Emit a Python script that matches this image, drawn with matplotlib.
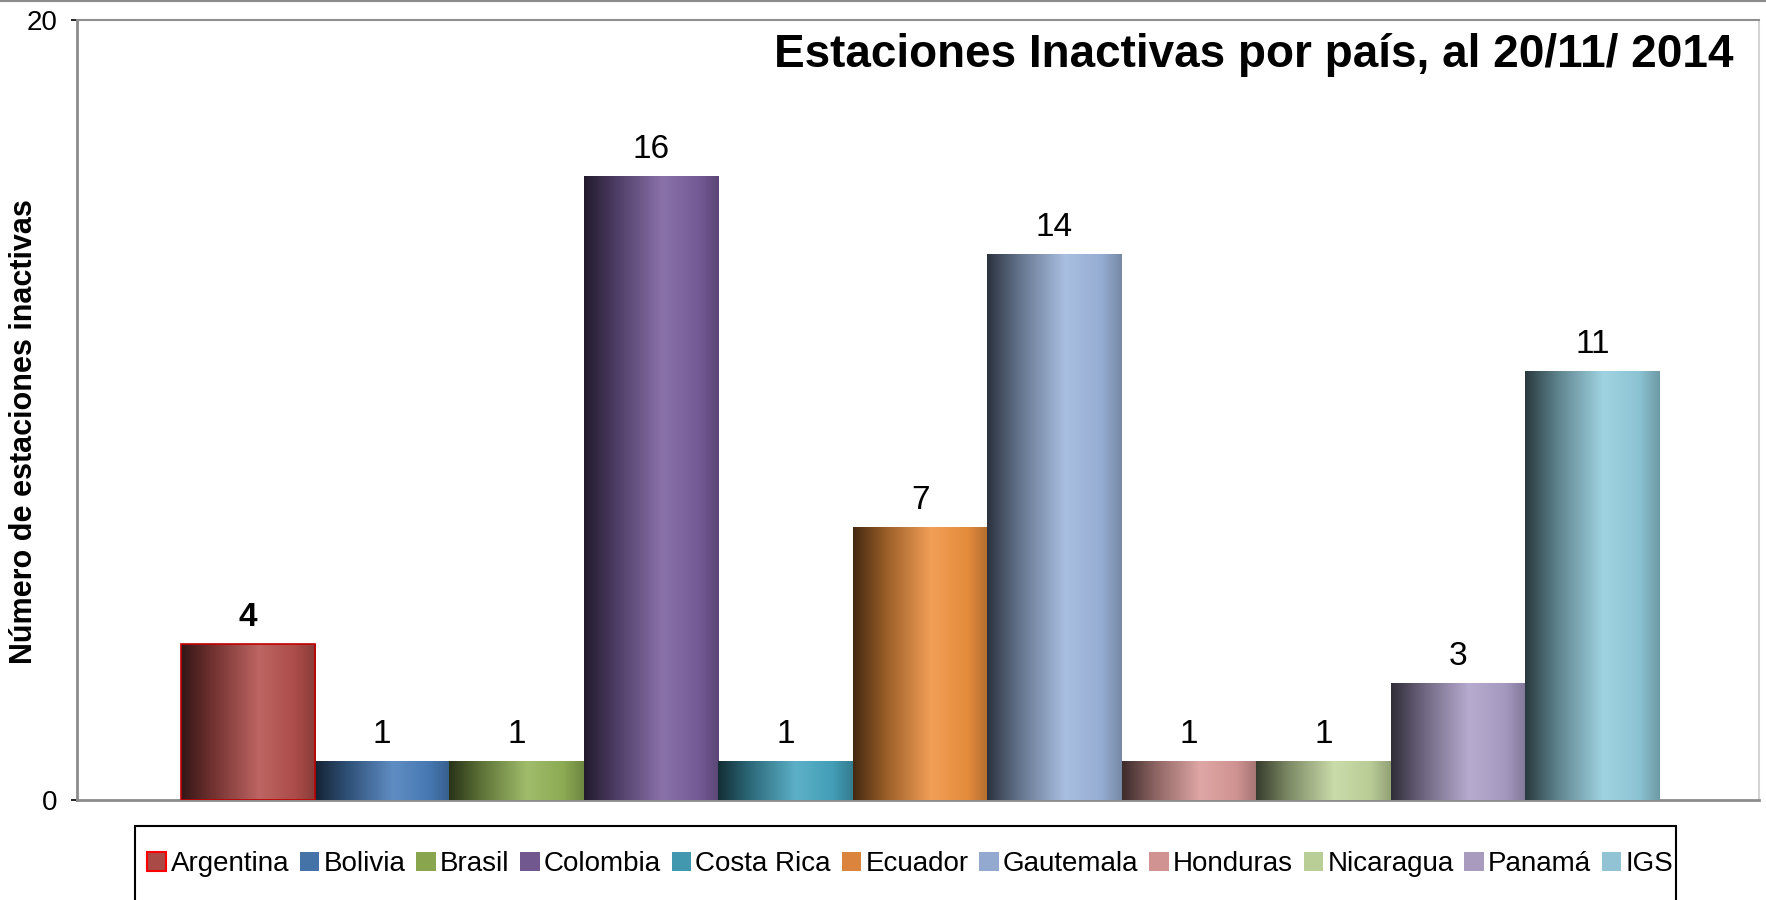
import numpy as np
import matplotlib
matplotlib.use("Agg")
import matplotlib.pyplot as plt
from matplotlib.patches import Patch, Rectangle
from matplotlib.colors import LinearSegmentedColormap, to_rgb
from matplotlib.lines import Line2D

countries = ["Argentina", "Bolivia", "Brasil", "Colombia", "Costa Rica", "Ecuador",
             "Gautemala", "Honduras", "Nicaragua", "Panamá", "IGS"]
inactive = [4, 1, 1, 16, 1, 7, 14, 1, 1, 3, 11]
colors = ["#B4504D", "#4A7EBB", "#93B457", "#7A5F9E", "#46A6C0", "#F0923F",
          "#9DB6DD", "#DA9B99", "#C3D79E", "#ADA0C9", "#93CDDD"]
legend_colors = ["#A94A47", "#4572A7", "#89A54E", "#71588F", "#4198AF", "#DB843D",
                 "#93A9CF", "#D19392", "#B9CD96", "#A99BBD", "#92C3D4"]

W, H = 1766, 900
plt.rcParams["font.family"] = ["Liberation Sans", "DejaVu Sans"]

fig = plt.figure(figsize=(W / 100, H / 100), dpi=100)
ax = fig.add_axes([77 / W, 1 - 800 / H, (1759 - 77) / W, (800 - 20) / H])

x = np.arange(len(countries))
bars = ax.bar(x, inactive, width=1.0, color=colors, linewidth=0, zorder=2)


def shade(c, k):
    r = np.array(to_rgb(c))
    if k < 0:
        return tuple(r * (1 + k))
    return tuple(r + (1 - r) * k)


# horizontal gradient on each bar, clipped to the bar itself
grad = np.linspace(0, 1, 256).reshape(1, -1)
for b, c in zip(bars, colors):
    cmap = LinearSegmentedColormap.from_list(
        "g", [(0, shade(c, -0.72)), (0.25, shade(c, -0.35)), (0.58, shade(c, 0.12)),
              (0.85, shade(c, -0.05)), (1, shade(c, -0.25))])
    x0, w, h = b.get_x(), b.get_width(), b.get_height()
    im = ax.imshow(grad, cmap=cmap, extent=(x0, x0 + w, 0, h), aspect="auto",
                   interpolation="bicubic", zorder=3)
    im.set_clip_path(b)

# Argentina has a red outline
ax.bar(x[0], inactive[0], width=1.0, fill=False, edgecolor="#C00000", linewidth=1.2, zorder=4)

for i, v in enumerate(inactive):
    ax.annotate(str(v), (x[i], v), xytext=(0, 8), textcoords="offset points",
                ha="center", va="bottom", fontsize=24,
                fontweight="bold" if i == 0 else "normal")

ax.set_xlim(-1.27, 11.24)
ax.set_ylim(0, 20)
ax.set_yticks([0, 20])
ax.set_xticks([])
ax.tick_params(axis="y", length=4, width=1.2, pad=10, labelsize=20)

ax.spines["left"].set_color("#8c8c8c")
ax.spines["left"].set_linewidth(2)
ax.spines["bottom"].set_color("#8c8c8c")
ax.spines["bottom"].set_linewidth(2)
ax.spines["top"].set_color("#8f8f8f")
ax.spines["top"].set_linewidth(1.5)
ax.spines["right"].set_color("#d4d4d4")
ax.spines["right"].set_linewidth(1.5)

ax.text(0.985, 0.955, "Estaciones Inactivas por país, al 20/11/ 2014", transform=ax.transAxes,
        ha="right", va="center", fontsize=33, fontweight="bold")
fig.text(24 / W, 1 - 432 / H, "Número de estaciones inactivas", rotation=90,
         ha="center", va="center", fontsize=22, fontweight="bold")

# frame line at the very top of the picture
fig.add_artist(Line2D([0, 1], [1 - 1 / H, 1 - 1 / H], transform=fig.transFigure,
                      color="#8c8c8c", linewidth=1.5))

# legend box (bottom edge runs off the picture)
fig.add_artist(Rectangle((135 / W, 1 - 903 / H), (1676 - 135) / W, (903 - 826) / H,
                         transform=fig.transFigure, fill=False, edgecolor="black",
                         linewidth=1.5))
handles = [Patch(facecolor=c, edgecolor="#FF0000" if i == 0 else c, linewidth=1.5 if i == 0 else 0)
           for i, c in enumerate(legend_colors)]
fig.legend(handles, countries, loc="center left", bbox_to_anchor=(147 / W, 1 - 864 / H),
           ncol=len(countries), frameon=False, handlelength=0.7, handleheight=0.7,
           handletextpad=0.15, columnspacing=0.39, borderpad=0, borderaxespad=0,
           prop={"size": 20})

fig.savefig("out.png", dpi=100)
